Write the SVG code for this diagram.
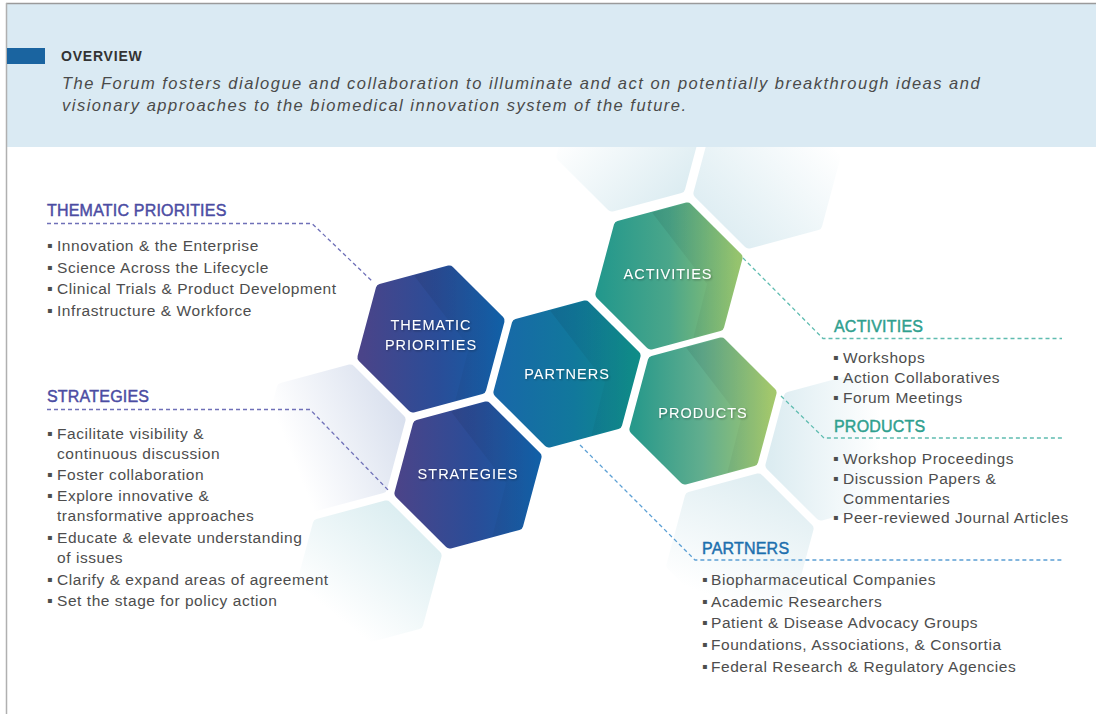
<svg xmlns="http://www.w3.org/2000/svg" xmlns:xlink="http://www.w3.org/1999/xlink" width="1096" height="714" viewBox="0 0 1096 714">
<defs>
<style>
.hex{stroke-width:10;stroke-linejoin:round}
.hl{font-family:"Liberation Sans",Arial,sans-serif;font-size:14.5px;letter-spacing:1px;fill:#ffffff;text-anchor:middle}
.hd{font-family:"Liberation Sans",Arial,sans-serif;font-size:16px;letter-spacing:0.2px;stroke-width:0.45}
.li{font-family:"Liberation Sans",Arial,sans-serif;font-size:15.5px;letter-spacing:0.55px;fill:#4d4d4d}
.bu{font-family:"DejaVu Sans",sans-serif;font-size:8px;letter-spacing:0}
.purple{fill:#4b4ca3;stroke:#4b4ca3}
.teal{fill:#2fa08f;stroke:#2fa08f}
.blue{fill:#1c6fae;stroke:#1c6fae}
.dash{fill:none;stroke-width:1.3;stroke-dasharray:4 3}
.fold{fill:url(#gFold)}
</style>
<polygon id="hexShape" points="18.38,-68.58 68.58,-18.38 50.2,50.2 -18.38,68.58 -68.58,18.38 -50.2,-50.2"/>
<polygon id="foldShape" points="-17,-63.6 38,8 24.4,61.6 53.74,53.74 73.41,-19.67 19.67,-73.41"/>
<linearGradient id="gThem" x1="0" y1="0" x2="1" y2="0">
<stop offset="0" stop-color="#4a4489"/><stop offset="0.55" stop-color="#2a4d98"/><stop offset="1" stop-color="#125fa6"/>
</linearGradient>
<linearGradient id="gPart" x1="0" y1="0" x2="1" y2="0">
<stop offset="0" stop-color="#1868a8"/><stop offset="0.55" stop-color="#11789c"/><stop offset="1" stop-color="#0f8c88"/>
</linearGradient>
<linearGradient id="gAct" x1="0" y1="0" x2="1" y2="0">
<stop offset="0" stop-color="#24988c"/><stop offset="0.5" stop-color="#4aa68a"/><stop offset="1" stop-color="#96c46e"/>
</linearGradient>
<linearGradient id="gProd" x1="0" y1="0" x2="1" y2="0">
<stop offset="0" stop-color="#28998b"/><stop offset="0.5" stop-color="#62ae8e"/><stop offset="1" stop-color="#a3c86c"/>
</linearGradient>
<linearGradient id="gFold" x1="0" y1="0" x2="1" y2="0">
<stop offset="0" stop-color="#000000" stop-opacity="0.08"/><stop offset="1" stop-color="#000000" stop-opacity="0"/>
</linearGradient>
<linearGradient id="fTC" x1="0" y1="0" x2="1" y2="1">
<stop offset="0.25" stop-color="#ffffff"/><stop offset="1" stop-color="#d6e9ef"/>
</linearGradient>
<linearGradient id="fTR" x1="0" y1="1" x2="1" y2="0">
<stop offset="0" stop-color="#d8eaf0"/><stop offset="0.85" stop-color="#ffffff"/>
</linearGradient>
<linearGradient id="fL" x1="1" y1="0.3" x2="0" y2="0.7">
<stop offset="0" stop-color="#d9e0ee"/><stop offset="0.8" stop-color="#ffffff"/>
</linearGradient>
<linearGradient id="fLL" x1="1" y1="0" x2="0.2" y2="1">
<stop offset="0" stop-color="#d4eaee"/><stop offset="0.85" stop-color="#ffffff"/>
</linearGradient>
<linearGradient id="fR" x1="0" y1="0.5" x2="1" y2="0.5">
<stop offset="0" stop-color="#dcecf1"/><stop offset="0.8" stop-color="#ffffff"/>
</linearGradient>
<linearGradient id="fB" x1="0.6" y1="0" x2="0.2" y2="1">
<stop offset="0" stop-color="#e0eef2"/><stop offset="0.85" stop-color="#ffffff"/>
</linearGradient>
<filter id="shadow" x="-10%" y="-30%" width="120%" height="160%">
<feDropShadow dx="1" dy="1" stdDeviation="0.8" flood-color="#000000" flood-opacity="0.35"/>
</filter>
</defs>
<rect x="0" y="0" width="1096" height="714" fill="#ffffff"/>
<g id="background-hexagons">
<use xlink:href="#hexShape" class="hex" fill="url(#fTC)" stroke="url(#fTC)" transform="translate(630,138)"/>
<use xlink:href="#hexShape" class="hex" fill="url(#fTR)" stroke="url(#fTR)" transform="translate(767,175)"/>
<use xlink:href="#hexShape" class="hex" fill="url(#fL)" stroke="url(#fL)" transform="translate(332,438)"/>
<use xlink:href="#hexShape" class="hex" fill="url(#fLL)" stroke="url(#fLL)" transform="translate(368,574)"/>
<use xlink:href="#hexShape" class="hex" fill="url(#fR)" stroke="url(#fR)" transform="translate(839,447)"/>
<use xlink:href="#hexShape" class="hex" fill="url(#fB)" stroke="url(#fB)" transform="translate(740,547)"/>
</g>
<g id="header">
<rect x="7" y="4" width="1089" height="143" fill="#daeaf3"/>
<line x1="6" y1="3.5" x2="1096" y2="3.5" stroke="#9a9a9a" stroke-width="1.5"/>
<line x1="6.5" y1="3" x2="6.5" y2="714" stroke="#b0b0b0" stroke-width="1.5"/>
<rect x="7" y="48" width="38" height="16" fill="#1a64a0"/>
<text x="61" y="60.5" font-family="Liberation Sans, Arial, sans-serif" font-size="14" font-weight="bold" letter-spacing="0.8" fill="#333333">OVERVIEW</text>
<text font-family="Liberation Sans, Arial, sans-serif" font-size="16.5" font-style="italic" letter-spacing="1.5" fill="#4a4a4a"><tspan x="62" y="89">The Forum fosters dialogue and collaboration to illuminate and act on potentially breakthrough ideas and</tspan><tspan x="62" y="111">visionary approaches to the biomedical innovation system of the future.</tspan></text>
</g>
<g id="connectors">
<polyline class="dash" stroke="#6f70b8" points="47,223.5 312,223.5 373,282"/>
<polyline class="dash" stroke="#6f70b8" points="47,409.5 310,409.5 390,492"/>
<polyline class="dash" stroke="#5fbcb0" points="743,258 823,338.5 1062,338.5"/>
<polyline class="dash" stroke="#5fbcb0" points="781,396 824,438 1062,438"/>
<polyline class="dash" stroke="#5b9fd4" points="580,445 695,560 1062,560"/>
</g>
<g id="node-thematic-priorities">
<use xlink:href="#hexShape" class="hex" fill="url(#gThem)" stroke="url(#gThem)" transform="translate(431,339)"/>
<use xlink:href="#foldShape" class="fold" transform="translate(431,339)"/>
<text class="hl" filter="url(#shadow)"><tspan x="431" y="330">THEMATIC</tspan><tspan x="431" y="350">PRIORITIES</tspan></text>
</g>
<g id="node-partners">
<use xlink:href="#hexShape" class="hex" fill="url(#gPart)" stroke="url(#gPart)" transform="translate(567,374)"/>
<use xlink:href="#foldShape" class="fold" transform="translate(567,374)"/>
<text class="hl" x="567" y="379" filter="url(#shadow)">PARTNERS</text>
</g>
<g id="node-strategies">
<use xlink:href="#hexShape" class="hex" fill="url(#gThem)" stroke="url(#gThem)" transform="translate(468,475)"/>
<use xlink:href="#foldShape" class="fold" transform="translate(468,475)"/>
<text class="hl" x="468" y="479" filter="url(#shadow)">STRATEGIES</text>
</g>
<g id="node-activities">
<use xlink:href="#hexShape" class="hex" fill="url(#gAct)" stroke="url(#gAct)" transform="translate(669,276)"/>
<use xlink:href="#foldShape" class="fold" transform="translate(669,276)"/>
<text class="hl" x="668" y="279" filter="url(#shadow)">ACTIVITIES</text>
</g>
<g id="node-products">
<use xlink:href="#hexShape" class="hex" fill="url(#gProd)" stroke="url(#gProd)" transform="translate(703,411)"/>
<use xlink:href="#foldShape" class="fold" transform="translate(703,411)"/>
<text class="hl" x="703" y="418" filter="url(#shadow)">PRODUCTS</text>
</g>
<g id="list-thematic-priorities">
<text class="hd purple" x="47" y="216">THEMATIC PRIORITIES</text>
<text class="li"><tspan class="bu" x="47" y="248">▪</tspan><tspan x="57" y="251">Innovation &amp; the Enterprise</tspan></text>
<text class="li"><tspan class="bu" x="47" y="269.5">▪</tspan><tspan x="57" y="272.5">Science Across the Lifecycle</tspan></text>
<text class="li"><tspan class="bu" x="47" y="291">▪</tspan><tspan x="57" y="294">Clinical Trials &amp; Product Development</tspan></text>
<text class="li"><tspan class="bu" x="47" y="312.5">▪</tspan><tspan x="57" y="315.5">Infrastructure &amp; Workforce</tspan></text>
</g>
<g id="list-strategies">
<text class="hd purple" x="47" y="401.5">STRATEGIES</text>
<text class="li"><tspan class="bu" x="47" y="435.5">▪</tspan><tspan x="57" y="438.5">Facilitate visibility &amp;</tspan><tspan x="57" y="458.5">continuous discussion</tspan></text>
<text class="li"><tspan class="bu" x="47" y="476.5">▪</tspan><tspan x="57" y="479.5">Foster collaboration</tspan></text>
<text class="li"><tspan class="bu" x="47" y="498">▪</tspan><tspan x="57" y="501">Explore innovative &amp;</tspan><tspan x="57" y="521">transformative approaches</tspan></text>
<text class="li"><tspan class="bu" x="47" y="539.5">▪</tspan><tspan x="57" y="542.5">Educate &amp; elevate understanding</tspan><tspan x="57" y="562.5">of issues</tspan></text>
<text class="li"><tspan class="bu" x="47" y="581.5">▪</tspan><tspan x="57" y="584.5">Clarify &amp; expand areas of agreement</tspan></text>
<text class="li"><tspan class="bu" x="47" y="603">▪</tspan><tspan x="57" y="606">Set the stage for policy action</tspan></text>
</g>
<g id="list-activities">
<text class="hd teal" x="834" y="331.5">ACTIVITIES</text>
<text class="li"><tspan class="bu" x="833" y="359.5">▪</tspan><tspan x="843" y="362.5">Workshops</tspan></text>
<text class="li"><tspan class="bu" x="833" y="379.5">▪</tspan><tspan x="843" y="382.5">Action Collaboratives</tspan></text>
<text class="li"><tspan class="bu" x="833" y="399.5">▪</tspan><tspan x="843" y="402.5">Forum Meetings</tspan></text>
</g>
<g id="list-products">
<text class="hd teal" x="834" y="432">PRODUCTS</text>
<text class="li"><tspan class="bu" x="833" y="460.5">▪</tspan><tspan x="843" y="463.5">Workshop Proceedings</tspan></text>
<text class="li"><tspan class="bu" x="833" y="480.5">▪</tspan><tspan x="843" y="483.5">Discussion Papers &amp;</tspan><tspan x="843" y="503.5">Commentaries</tspan></text>
<text class="li"><tspan class="bu" x="833" y="519.5">▪</tspan><tspan x="843" y="522.5">Peer-reviewed Journal Articles</tspan></text>
</g>
<g id="list-partners">
<text class="hd blue" x="702" y="554">PARTNERS</text>
<text class="li"><tspan class="bu" x="702" y="582">▪</tspan><tspan x="711" y="585">Biopharmaceutical Companies</tspan></text>
<text class="li"><tspan class="bu" x="702" y="603.5">▪</tspan><tspan x="711" y="606.5">Academic Researchers</tspan></text>
<text class="li"><tspan class="bu" x="702" y="625">▪</tspan><tspan x="711" y="628">Patient &amp; Disease Advocacy Groups</tspan></text>
<text class="li"><tspan class="bu" x="702" y="647">▪</tspan><tspan x="711" y="650">Foundations, Associations, &amp; Consortia</tspan></text>
<text class="li"><tspan class="bu" x="702" y="668.5">▪</tspan><tspan x="711" y="671.5">Federal Research &amp; Regulatory Agencies</tspan></text>
</g>
</svg>
